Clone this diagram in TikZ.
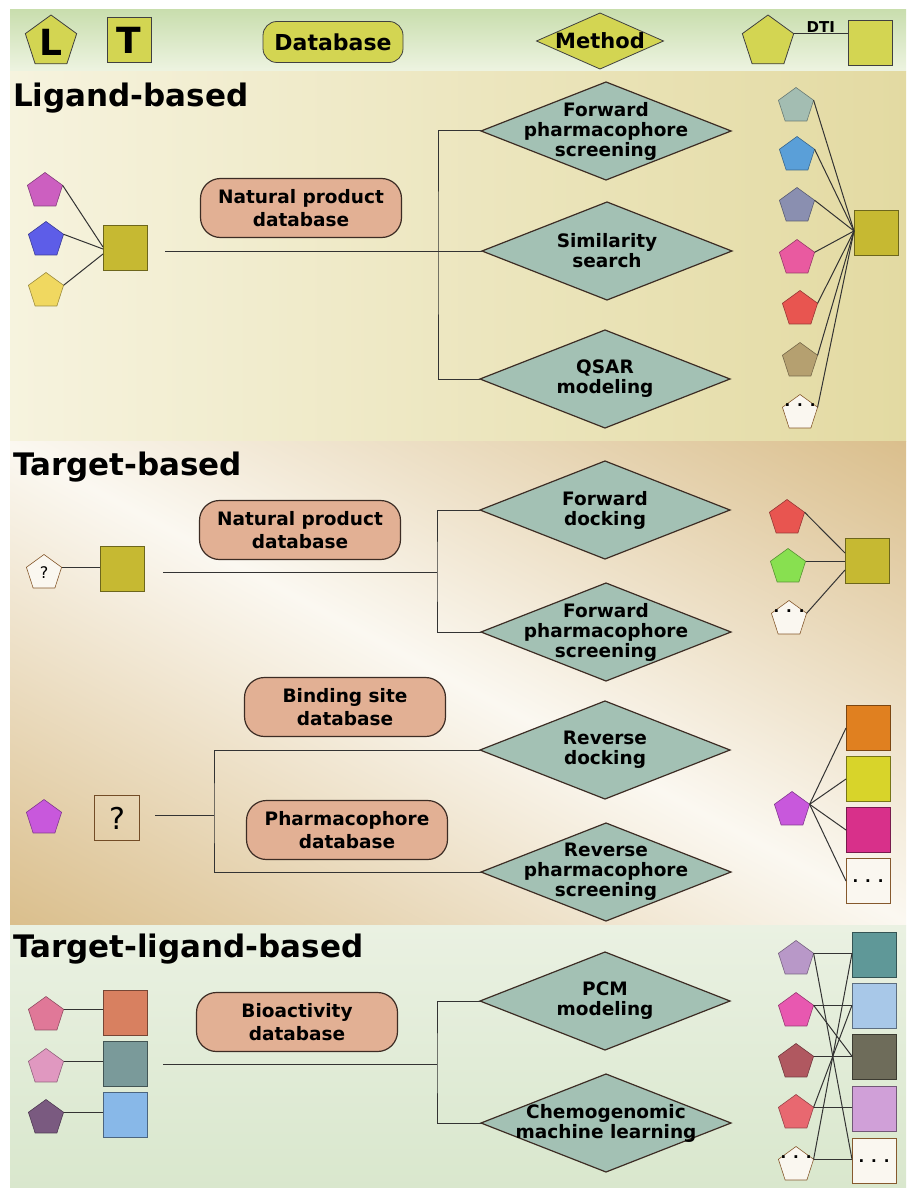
\documentclass[tikz,border=0pt]{standalone}
\usepackage{fontspec}
\setmainfont{DejaVu Sans}
\usetikzlibrary{shapes.geometric,calc}
\definecolor{hdrtop}{HTML}{C9DEAE}
\definecolor{hdrbot}{HTML}{EEF4E2}
\definecolor{sAleft}{HTML}{F6F3DE}
\definecolor{sAright}{HTML}{E3DAA2}
\definecolor{sBtan}{HTML}{D8BB86}
\definecolor{sBlight}{HTML}{FBF8F1}
\definecolor{sCtop}{HTML}{EAF1E2}
\definecolor{sCbot}{HTML}{D9E7CD}
\definecolor{hyel}{HTML}{D3D552}
\definecolor{olive}{HTML}{C6B932}
\definecolor{dbfill}{HTML}{E2B094}
\definecolor{mfill}{HTML}{A3C1B4}
\definecolor{edge}{HTML}{3C2C24}
\definecolor{cA1}{HTML}{CC5FC0}
\definecolor{cA2}{HTML}{5D5DE8}
\definecolor{cA3}{HTML}{F0D860}
\definecolor{cR1}{HTML}{A3BDB2}
\definecolor{cR2}{HTML}{5A9FD8}
\definecolor{cR3}{HTML}{8A8FB0}
\definecolor{cR4}{HTML}{E95AA0}
\definecolor{cR5}{HTML}{E85550}
\definecolor{cR6}{HTML}{B5A070}
\definecolor{blank}{HTML}{FAF7F0}
\definecolor{cT1}{HTML}{E85550}
\definecolor{cT2}{HTML}{88E050}
\definecolor{cP}{HTML}{C858DC}
\definecolor{cO1}{HTML}{E08020}
\definecolor{cO2}{HTML}{D8D42A}
\definecolor{cO3}{HTML}{D8308A}
\definecolor{cL1}{HTML}{E07898}
\definecolor{cL2}{HTML}{E098C0}
\definecolor{cL3}{HTML}{7A5A80}
\definecolor{cS1}{HTML}{D88060}
\definecolor{cS2}{HTML}{7A9A9A}
\definecolor{cS3}{HTML}{88B8E8}
\definecolor{cN1}{HTML}{B898C8}
\definecolor{cN2}{HTML}{E858B0}
\definecolor{cN3}{HTML}{B05860}
\definecolor{cN4}{HTML}{E86870}
\definecolor{cM1}{HTML}{5F9898}
\definecolor{cM2}{HTML}{A8C8E8}
\definecolor{cM3}{HTML}{6E6C5A}
\definecolor{cM4}{HTML}{D0A0D8}
\pgfdeclareverticalshading{bandB}{100bp}{color(0bp)=(sBtan); color(14bp)=(sBtan); color(50bp)=(sBlight); color(86bp)=(sBtan); color(100bp)=(sBtan)}
\begin{document}
\begin{tikzpicture}[x=1pt,y=-1pt,
  every node/.style={inner sep=0pt, outer sep=0pt},
  link/.style={draw=black!80, line width=1pt},
  pent/.style={regular polygon, regular polygon sides=5, minimum size=37pt, draw=#1!65!black, fill=#1, line width=0.6pt},
  wpent/.style={regular polygon, regular polygon sides=5, minimum size=37pt, draw=brown!70!black, fill=blank, line width=0.6pt},
  sq/.style={rectangle, minimum width=44pt, minimum height=45pt, draw=#1!55!black, fill=#1, line width=0.7pt},
  wsq/.style={rectangle, minimum width=44pt, minimum height=45pt, draw=brown!70!black, fill=blank, line width=0.7pt},
  dbbox/.style={rectangle, rounded corners=20pt, minimum width=201pt, minimum height=59pt, draw=edge, fill=dbfill, line width=1.2pt},
  meth/.style={diamond, minimum width=250pt, minimum height=98pt, draw=edge, fill=mfill, line width=1.2pt},
  dbtext/.style={font=\bfseries\fontsize{18.5}{23}\selectfont, align=center},
  mtext/.style={font=\bfseries\fontsize{18.5}{20}\selectfont, align=center},
  title/.style={font=\bfseries\fontsize{31}{36}\selectfont, anchor=base west},
  dots/.style={font=\bfseries\fontsize{15}{15}\selectfont},
  hshape/.style={draw=black!75, fill=hyel, line width=0.8pt}
]
\useasboundingbox (0,0) rectangle (906,1188);
\fill[white] (0,0) rectangle (906,1188);
% backgrounds
\shade[top color=hdrtop, bottom color=hdrbot] (10,10) rectangle (906,72);
\shade[left color=sAleft, right color=sAright] (10,72) rectangle (906,441);
\shade[shading=bandB, shading angle=-28] (10,441) rectangle (906,925);
\shade[top color=sCtop, bottom color=sCbot] (10,925) rectangle (906,1188);

% ---------------- header legend
\node[hshape, regular polygon, regular polygon sides=5, minimum size=54pt, font=\bfseries\fontsize{36}{36}\selectfont] (hL) at (51,42) {L};
\node[hshape, rectangle, minimum width=44pt, minimum height=45pt, font=\bfseries\fontsize{36}{36}\selectfont] (hT) at (129,40) {T};
\node[hshape, rectangle, rounded corners=14pt, minimum width=140pt, minimum height=41pt, font=\bfseries\fontsize{22}{22}\selectfont] (hDB) at (333,42) {Database};
\node[hshape, diamond, minimum width=127pt, minimum height=56pt] (hM) at (600,41) {};
\node[font=\bfseries\fontsize{21}{21}\selectfont] (hMt) at (hM) {Method};
\node[hshape, regular polygon, regular polygon sides=5, minimum size=54pt] (hDp) at (768,42) {};
\node[hshape, rectangle, minimum width=44pt, minimum height=45pt] (hDs) at (870,43) {};
\draw[link] (hDp.corner 5) -- (hDp.corner 5 -| hDs.west) node[midway, above=1pt, font=\bfseries\fontsize{15}{15}\selectfont] (hDt) {DTI};

% ---------------- Ligand-based
\node[title] (t1) at (13,107) {Ligand-based};
\node[pent=cA1] (a1) at (45,191) {};
\node[pent=cA2] (a2) at (46,240) {};
\node[pent=cA3] (a3) at (46,291) {};
\node[sq=olive] (asq) at (125,248) {};
\draw[link] (a1.corner 5) -- ($(asq.west)+(0,-1)$);
\draw[link] (a2.corner 5) -- ($(asq.west)+(0,1)$);
\draw[link] (a3.corner 5) -- ($(asq.west)+(0,6)$);
\node[dbbox] (db1) at (301,208) {};
\node[dbtext] (db1t) at (db1) {Natural product\\database};
\node[meth] (m1) at (606,131) {};
\node[mtext] (m1t) at (m1) {Forward\\pharmacophore\\screening};
\node[meth] (m2) at (607,251) {};
\node[mtext] (m2t) at (m2) {Similarity\\search};
\node[meth] (m3) at (605,379) {};
\node[mtext] (m3t) at (m3) {QSAR\\modeling};
\coordinate (s1) at (165,251);
\coordinate (v1) at (438,251);
\draw[link] (s1) -- (m2.west);
\draw[link] (m1.west) -| (v1) |- (m3.west);
\node[pent=cR1] (r1) at (796,106) {};
\node[pent=cR2] (r2) at (797,155) {};
\node[pent=cR3] (r3) at (797,206) {};
\node[pent=cR4] (r4) at (797,258) {};
\node[pent=cR5] (r5) at (800,309) {};
\node[pent=cR6] (r6) at (800,361) {};
\node[wpent] (r7) at (800,413) {};
\node[dots] (r7t) at ($(r7)+(0,-8)$) {. . .};
\node[sq=olive] (rsq) at (876,233) {};
\coordinate (rc) at ($(rsq.west)+(0,-2)$);
\foreach \p in {r1,r2,r3,r4,r5,r6,r7}{\draw[link] (\p.corner 5) -- (rc);}

% ---------------- Target-based (forward)
\node[title] (t2) at (13,475) {Target-based};
\node[wpent] (q1) at (44,573) {};
\node[font=\fontsize{16}{16}\selectfont] (q1t) at (q1) {?};
\node[sq=olive] (bsq) at (122,569) {};
\draw[link] (q1.corner 5) -- (q1.corner 5 -| bsq.west);
\node[dbbox] (db2) at (300,530) {};
\node[dbtext] (db2t) at (db2) {Natural product\\database};
\node[meth] (f1) at (605,510) {};
\node[mtext] (f1t) at (f1) {Forward\\docking};
\node[meth] (f2) at (606,632) {};
\node[mtext] (f2t) at (f2) {Forward\\pharmacophore\\screening};
\coordinate (s2) at (163,572);
\coordinate (v2) at (437,572);
\draw[link] (s2) -- (v2);
\draw[link] (f1.west) -| (v2) |- (f2.west);
\node[pent=cT1] (g1) at (787,518) {};
\node[pent=cT2] (g2) at (788,567) {};
\node[wpent] (g3) at (789,619) {};
\node[dots] (g3t) at ($(g3)+(0,-8)$) {. . .};
\node[sq=olive] (gsq) at (867,561) {};
\draw[link] (g1.corner 5) -- ($(gsq.west)+(0,-8)$);
\draw[link] (g2.corner 5) -- (g2.corner 5 -| gsq.west);
\draw[link] (g3.corner 5) -- ($(gsq.west)+(0,9)$);

% ---------------- Target-based (reverse)
\node[dbbox] (db3) at (345,707) {};
\node[dbtext] (db3t) at (db3) {Binding site\\database};
\node[dbbox] (db4) at (347,830) {};
\node[dbtext] (db4t) at (db4) {Pharmacophore\\database};
\node[pent=cP] (pp) at (44,818) {};
\node[rectangle, minimum width=45pt, minimum height=45pt, draw=brown!60!black, line width=0.8pt, font=\fontsize{30}{30}\selectfont] (qsq) at (117,818) {?};
\coordinate (s3) at (155,815);
\coordinate (v3) at (214,815);
\draw[link] (s3) -- (v3);
\node[meth] (e1) at (605,750) {};
\node[mtext] (e1t) at (e1) {Reverse\\docking};
\node[meth] (e2) at (606,872) {};
\node[mtext] (e2t) at (e2) {Reverse\\pharmacophore\\screening};
\draw[link] (e1.west) -| (v3) |- (e2.west);
\node[pent=cP] (pr) at (792,810) {};
\node[sq=cO1] (o1) at (868,728) {};
\node[sq=cO2] (o2) at (868,779) {};
\node[sq=cO3] (o3) at (868,830) {};
\node[wsq] (o4) at (868,881) {};
\node[dots] (o4t) at (o4) {. . .};
\foreach \s in {o1,o2,o3,o4}{\draw[link] (pr.corner 5) -- (\s.west);}

% ---------------- Target-ligand-based
\node[title] (t3) at (13,957) {Target-ligand-based};
\node[pent=cL1] (lp1) at (46,1015) {};
\node[pent=cL2] (lp2) at (46,1067) {};
\node[pent=cL3] (lp3) at (46,1118) {};
\node[sq=cS1] (ls1) at (125,1013) {};
\node[sq=cS2] (ls2) at (125,1064) {};
\node[sq=cS3] (ls3) at (125,1115) {};
\draw[link] (lp1.corner 5) -- (lp1.corner 5 -| ls1.west);
\draw[link] (lp2.corner 5) -- (lp2.corner 5 -| ls2.west);
\draw[link] (lp3.corner 5) -- (lp3.corner 5 -| ls3.west);
\node[dbbox] (db5) at (297,1022) {};
\node[dbtext] (db5t) at (db5) {Bioactivity\\database};
\node[meth] (c1) at (605,1001) {};
\node[mtext] (c1t) at (c1) {PCM\\modeling};
\node[meth] (c2) at (606,1123) {};
\node[mtext] (c2t) at (c2) {Chemogenomic\\machine learning};
\coordinate (s4) at (163,1064);
\coordinate (v4) at (437,1064);
\draw[link] (s4) -- (v4);
\draw[link] (c1.west) -| (v4) |- (c2.west);
\node[pent=cN1] (n1) at (796,959) {};
\node[pent=cN2] (n2) at (796,1011) {};
\node[pent=cN3] (n3) at (796,1062) {};
\node[pent=cN4] (n4) at (796,1113) {};
\node[wpent] (n5) at (796,1165) {};
\node[dots] (n5t) at ($(n5)+(0,-8)$) {. . .};
\node[sq=cM1] (k1) at (874,955) {};
\node[sq=cM2] (k2) at (874,1006) {};
\node[sq=cM3] (k3) at (874,1057) {};
\node[sq=cM4] (k4) at (874,1109) {};
\node[wsq] (k5) at (874,1161) {};
\node[dots] (k5t) at (k5) {. . .};
\draw[link] (n1.corner 5) -- (n1.corner 5 -| k1.west);
\draw[link] (n1.corner 5) -- (n5.corner 5 -| k5.west);
\draw[link] (n2.corner 5) -- (n2.corner 5 -| k2.west);
\draw[link] (n2.corner 5) -- (n3.corner 5 -| k3.west);
\draw[link] (n3.corner 5) -- (n3.corner 5 -| k3.west);
\draw[link] (n4.corner 5) -- (n4.corner 5 -| k4.west);
\draw[link] (n4.corner 5) -- (n2.corner 5 -| k2.west);
\draw[link] (n5.corner 5) -- (n5.corner 5 -| k5.west);
\draw[link] (n5.corner 5) -- (n1.corner 5 -| k1.west);
\end{tikzpicture}
\end{document}
